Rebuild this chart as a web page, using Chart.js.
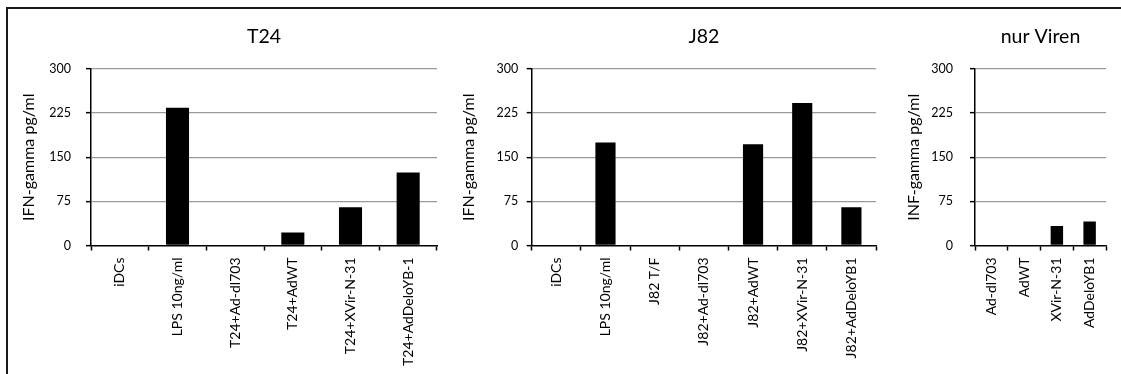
<!DOCTYPE html>
<html>
<head>
<meta charset="utf-8">
<script src="https://cdn.jsdelivr.net/npm/chart.js@4"></script>
<style>
  html, body { margin: 0; padding: 0; background: #fff; }
  #wrap { position: relative; width: 1121px; height: 374px; overflow: hidden; }
  #frame { position: absolute; left: 6px; top: 7px; width: 1130px; height: 380px;
           border-top: 2px solid #1a1a1a; border-left: 2px solid #1a1a1a; }
  canvas { position: absolute; left: 0; top: 0; }
</style>
</head>
<body>
<div id="wrap">
  <div id="frame"></div>
  <canvas id="c1" width="1121" height="374"></canvas>
  <canvas id="c2" width="1121" height="374"></canvas>
  <canvas id="c3" width="1121" height="374"></canvas>
</div>
<script>
// IFN-gamma release (pg/ml) per stimulation condition
const yTicks = [0, 75, 150, 225, 300];

const t24Labels = ['iDCs', 'LPS 10ng/ml', 'T24+Ad-dl703', 'T24+AdWT', 'T24+XVir-N-31', 'T24+AdDeloYB-1'];
const t24Values = [0, 234, 0, 22, 65, 124];

const j82Labels = ['iDCs', 'LPS 10ng/ml', 'J82 T/F', 'J82+Ad-dl703', 'J82+AdWT', 'J82+XVir-N-31', 'J82+AdDeloYB1'];
const j82Values = [0, 175, 0, 0, 172, 242, 65];

const virenLabels = ['Ad-dl703', 'AdWT', 'XVir-N-31', 'AdDeloYB1'];
const virenValues = [0, 0, 33, 41];

const panelTitles = ['T24', 'J82', 'nur Viren'];
const axisTitles = ['IFN-gamma pg/ml', 'IFN-gamma pg/ml', 'INF-gamma pg/ml'];

const FONT = 'Lato, "Liberation Sans", sans-serif';
const H = 374;
const PLOT_BOTTOM = 245.5;

// placement of each panel inside the shared 1121px strip
const layouts = [
  { padLeft: 19,  yWidth: 72,   padRight: 684, tickPad: 15,  bar: 0.40 },
  { padLeft: 459, yWidth: 72.7, padRight: 245, tickPad: 8.5, bar: 0.41 },
  { padLeft: 904, yWidth: 71,   padRight: 15,  tickPad: 17,  bar: 0.38 }
];

function makePanel(id, labels, values, title, yTitle, g) {
  return new Chart(document.getElementById(id), {
    type: 'bar',
    data: {
      labels: labels,
      datasets: [{
        data: values,
        backgroundColor: '#000',
        borderWidth: 0,
        barPercentage: g.bar,
        categoryPercentage: 1
      }]
    },
    options: {
      responsive: false,
      animation: false,
      events: [],
      layout: { padding: { left: g.padLeft, right: g.padRight, top: 0, bottom: 0 } },
      plugins: {
        legend: { display: false },
        tooltip: { enabled: false },
        title: {
          display: true,
          text: title,
          fullSize: false,
          color: '#000',
          font: { family: FONT, size: 19.5, weight: 'normal' },
          padding: { top: 25.3, bottom: 20.3 }
        }
      },
      scales: {
        x: {
          offset: true,
          grid: { offset: true, drawOnChartArea: false, drawTicks: true, tickLength: 5, tickColor: '#000', tickWidth: 1.5 },
          border: { color: '#000', width: 1.5 },
          ticks: {
            autoSkip: false, maxRotation: 90, minRotation: 90, padding: 7,
            color: '#000', font: { family: FONT, size: 14 }
          },
          afterFit: s => { s.height = H - PLOT_BOTTOM; }
        },
        y: {
          min: yTicks[0],
          max: yTicks[yTicks.length - 1],
          ticks: {
            stepSize: yTicks[1] - yTicks[0], padding: g.tickPad,
            color: '#000', font: { family: FONT, size: 12.5 }
          },
          grid: {
            color: ctx => (ctx.tick && ctx.tick.value === 0) ? 'rgba(0,0,0,0)' : '#9a9a9a',
            lineWidth: 1.3, tickLength: 5, tickColor: '#000', tickWidth: 1.5
          },
          border: { color: '#000', width: 1.5 },
          title: {
            display: true, text: yTitle, color: '#000',
            font: { family: FONT, size: 16 }, padding: { top: 0, bottom: 0 }
          },
          afterFit: s => { s.width = g.yWidth; }
        }
      }
    }
  });
}

makePanel('c1', t24Labels, t24Values, panelTitles[0], axisTitles[0], layouts[0]);
makePanel('c2', j82Labels, j82Values, panelTitles[1], axisTitles[1], layouts[1]);
makePanel('c3', virenLabels, virenValues, panelTitles[2], axisTitles[2], layouts[2]);
</script>
</body>
</html>
